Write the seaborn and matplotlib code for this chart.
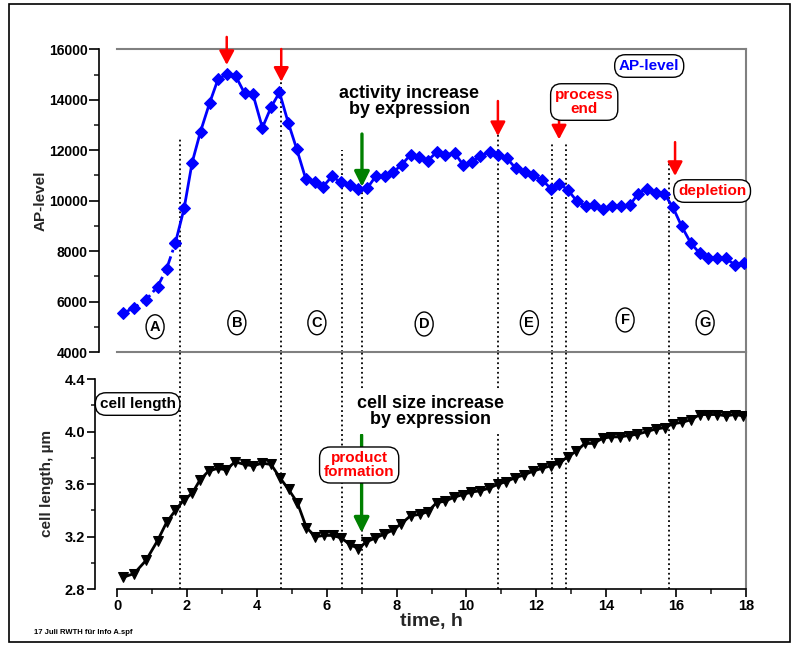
import matplotlib
matplotlib.use('Agg')
import matplotlib.pyplot as plt
import seaborn as sns
from matplotlib.patches import Ellipse, Rectangle
from matplotlib.ticker import FixedLocator

# ---------------- data ----------------
ap_time = [0.16, 0.5, 0.84, 1.16, 1.42, 1.67, 1.92, 2.15, 2.39, 2.65, 2.89, 3.14, 3.4, 3.65, 3.89,
           4.16, 4.41, 4.65, 4.9, 5.14, 5.4, 5.66, 5.9,
           6.15, 6.4, 6.66, 6.9, 7.16, 7.4, 7.66, 7.9, 8.15, 8.4, 8.64, 8.9, 9.15, 9.4, 9.66, 9.9,
           10.15, 10.4, 10.66, 10.91, 11.16, 11.41, 11.67, 11.91,
           12.16, 12.42, 12.66, 12.9, 13.16, 13.41, 13.66, 13.91, 14.16, 14.42, 14.67, 14.91,
           15.16, 15.42, 15.66, 15.91, 16.16, 16.42, 16.67, 16.92, 17.17, 17.42, 17.68, 17.93]
ap_level = [5530, 5760, 6080, 6590, 7300, 8320, 9690, 11510, 12740, 13870, 14810, 15020, 14930, 14260, 14220,
            12890, 13710, 14290, 13090, 12060, 10870, 10730, 10560,
            10960, 10740, 10610, 10470, 10490, 10960, 10960, 11120, 11430, 11820, 11720, 11590, 11930, 11820, 11890, 11430,
            11530, 11780, 11930, 11810, 11680, 11280, 11120, 11000,
            10830, 10470, 10660, 10430, 9980, 9770, 9830, 9650, 9790, 9770, 9810, 10270,
            10480, 10310, 10280, 9730, 8980, 8320, 7920, 7720, 7720, 7710, 7460, 7510]
ap_dashed_count = 6   # first points drawn with dash-dot line

cl_time = [0.16, 0.49, 0.83, 1.16, 1.42, 1.67, 1.91, 2.15, 2.37, 2.62, 2.88, 3.12, 3.38, 3.65, 3.9,
           4.15, 4.41, 4.66, 4.91, 5.16, 5.42, 5.68, 5.92, 6.17, 6.42, 6.67, 6.91, 7.13, 7.39, 7.65,
           7.89, 8.14, 8.4,
           8.66, 8.89, 9.15, 9.38, 9.64, 9.89, 10.14, 10.4, 10.65, 10.91, 11.14, 11.4, 11.65, 11.91,
           12.16, 12.41, 12.66, 12.9, 13.14, 13.39, 13.64, 13.9, 14.15, 14.39, 14.64, 14.89, 15.16,
           15.42, 15.67, 15.91, 16.16, 16.42, 16.68, 16.92, 17.18, 17.43, 17.68, 17.92]
cell_length = [2.89, 2.92, 3.02, 3.17, 3.31, 3.40, 3.48, 3.53, 3.63, 3.70, 3.72, 3.71, 3.77, 3.75, 3.74,
               3.76, 3.75, 3.65, 3.56, 3.46, 3.27, 3.20, 3.21, 3.21, 3.19, 3.14, 3.11, 3.16, 3.19, 3.22,
               3.25, 3.30, 3.36,
               3.37, 3.39, 3.46, 3.47, 3.50, 3.52, 3.54, 3.55, 3.57, 3.60, 3.62, 3.65, 3.67, 3.70,
               3.72, 3.74, 3.76, 3.81, 3.85, 3.91, 3.91, 3.95, 3.96, 3.96, 3.97, 3.98, 4.00,
               4.02, 4.03, 4.06, 4.07, 4.09, 4.13, 4.13, 4.13, 4.12, 4.13, 4.12]

phase_bounds = [1.8, 4.7, 6.45, 7.0, 10.9, 12.45, 12.85, 15.8]
phase_tops = [12500, 14715, 12000, 12600, 13300, 12270, 12280, 11480]
phase_labels = ['A', 'B', 'C', 'D', 'E', 'F', 'G']
phase_label_t = [1.09, 3.43, 5.72, 8.79, 11.8, 14.54, 16.83]
phase_label_v = [5000, 5160, 5160, 5110, 5160, 5270, 5160]

red_arrow_t = [3.14, 4.7, 10.9, 12.65, 15.97]
red_arrow_start = [16490, 16010, 13950, 13160, 12320]
red_arrow_tip = [15380, 14715, 12560, 12430, 10980]

ap_ticks = [4000, 6000, 8000, 10000, 12000, 14000, 16000]
ap_minor = [5000, 7000, 9000, 11000, 13000, 15000]
cl_ticks = [2.8, 3.2, 3.6, 4.0, 4.4]
cl_tick_labels = ['2.8', '3.2', '3.6', '4.0', '4.4']
cl_minor = [3.0, 3.4, 3.8, 4.2]
time_ticks = [0, 2, 4, 6, 8, 10, 12, 14, 16, 18]
time_minor = [1, 3, 5, 7, 9, 11, 13, 15, 17]

# ---------------- style ----------------
sns.set_theme(style='ticks')
plt.rcParams['font.family'] = ['Liberation Sans', 'DejaVu Sans']
plt.rcParams['font.weight'] = 'bold'
plt.rcParams['axes.labelweight'] = 'bold'

BLUE = '#0000ff'
RED = '#ff0000'
GREEN = '#008000'
GRAY = '#808080'

W, H = 801, 646
fig = plt.figure(figsize=(W / 100, H / 100), dpi=100)
fig.patch.set_facecolor('white')


def fx(px):
    return px / W


def fy(py):
    return 1 - py / H


X0, X1 = 117, 746
ax_top = fig.add_axes([fx(X0), fy(352), fx(X1) - fx(X0), fy(49.3) - fy(352)])
ax_bot = fig.add_axes([fx(X0), fy(589.3), fx(X1) - fx(X0), fy(352) - fy(589.3)])

ax_top.set_xlim(0, 18)
ax_top.set_ylim(4000, 16000)
ax_bot.set_xlim(0, 18)
ax_bot.set_ylim(2.8, 2.8 + (589.3 - 352) / 131.4)

for ax in (ax_top, ax_bot):
    ax.set_facecolor('none')
    for s in ax.spines.values():
        s.set_linewidth(1.5)
    ax.spines['right'].set_visible(True)
    ax.spines['right'].set_color(GRAY)
    ax.spines['left'].set_color('black')
    ax.spines['left'].set_linewidth(1.2)

ax_top.spines['top'].set_visible(True)
ax_top.spines['top'].set_color(GRAY)
ax_top.spines['bottom'].set_color(GRAY)
ax_top.spines['left'].set_position(('outward', 18 * 0.72))
ax_top.spines['left'].set_bounds(4000, 16000)
ax_bot.spines['top'].set_visible(False)
ax_bot.spines['bottom'].set_color('black')
ax_bot.spines['bottom'].set_linewidth(1.2)
ax_bot.spines['left'].set_position(('outward', 22 * 0.72))
ax_bot.spines['left'].set_bounds(2.8, 4.4)

# ticks
ax_top.set_yticks(ap_ticks)
ax_top.set_yticklabels([str(t) for t in ap_ticks], fontweight='bold')
ax_top.yaxis.set_minor_locator(FixedLocator(ap_minor))
ax_top.tick_params(axis='x', which='both', bottom=False, top=False, labelbottom=False)
ax_top.tick_params(axis='y', which='major', left=True, direction='out', length=7.2, width=1.2,
                   pad=1, labelsize=10, colors='black')
ax_top.tick_params(axis='y', which='minor', left=True, direction='out', length=3.6, width=1.2)

ax_bot.set_yticks(cl_ticks)
ax_bot.set_yticklabels(cl_tick_labels, fontweight='bold')
ax_bot.yaxis.set_minor_locator(FixedLocator(cl_minor))
ax_bot.set_xticks(time_ticks)
ax_bot.set_xticklabels([str(t) for t in time_ticks], fontweight='bold')
ax_bot.xaxis.set_minor_locator(FixedLocator(time_minor))
ax_bot.tick_params(axis='y', which='major', left=True, direction='out', length=6, width=1.2,
                   pad=1, labelsize=10.5, colors='black')
ax_bot.tick_params(axis='y', which='minor', left=True, direction='out', length=3, width=1.2)
ax_bot.tick_params(axis='x', which='major', bottom=True, direction='out', length=6, width=1.2,
                   pad=1, labelsize=10.5, colors='black')
ax_bot.tick_params(axis='x', which='minor', bottom=True, direction='out', length=3.6, width=1.2)

# axis labels
ax_top.set_ylabel('AP-level', fontsize=11, fontweight='bold')
ax_top.yaxis.set_label_coords((48 - X0) / (X1 - X0), 0.5)
ax_bot.set_ylabel('cell length, µm', fontsize=11, fontweight='bold')
ax_bot.yaxis.set_label_coords((54 - X0) / (X1 - X0), 0.448)
ax_bot.set_xlabel('time, h', fontsize=14, fontweight='bold')
ax_bot.xaxis.set_label_coords(0.5, -(613 - 589.3) / (589.3 - 352))

# phase boundaries
ax_top.vlines(phase_bounds, 4000, phase_tops, colors='black', linestyles=':', lw=1.3, zorder=1)
ax_bot.vlines(phase_bounds, 2.8, ax_bot.get_ylim()[1], colors='black', linestyles=':', lw=1.3, zorder=1)

# data lines
sns.lineplot(x=ap_time[:ap_dashed_count], y=ap_level[:ap_dashed_count], ax=ax_top, color=BLUE,
             linestyle=(0, (4, 1.5, 1, 1.5)), lw=2, marker='D', markersize=6.2, markeredgecolor=BLUE,
             estimator=None, sort=False, zorder=3)
sns.lineplot(x=ap_time[ap_dashed_count - 1:], y=ap_level[ap_dashed_count - 1:], ax=ax_top, color=BLUE,
             lw=2, marker='D', markersize=6.2, markeredgecolor=BLUE, estimator=None, sort=False, zorder=3)
sns.lineplot(x=cl_time, y=cell_length, ax=ax_bot, color='black', lw=2, marker='v', markersize=7,
             markeredgecolor='black', estimator=None, sort=False, zorder=3)
for ax in (ax_top, ax_bot):
    if ax.get_legend() is not None:
        ax.get_legend().remove()
ax_top.set_xlabel('')

# arrows
for t, s, e in zip(red_arrow_t, red_arrow_start, red_arrow_tip):
    ax_top.annotate('', xy=(t, e), xytext=(t, s), annotation_clip=False,
                    arrowprops=dict(arrowstyle='-|>,head_length=0.85,head_width=0.45', mutation_scale=10,
                                    color=RED, lw=1.8, shrinkA=0, shrinkB=0), zorder=4)
ax_top.annotate('', xy=(7.01, 10552), xytext=(7.01, 12642),
                arrowprops=dict(arrowstyle='-|>,head_length=0.9,head_width=0.45', mutation_scale=10,
                                color=GREEN, lw=2.4, shrinkA=0, shrinkB=0), zorder=4)
ax_bot.annotate('', xy=(7.0, 3.231), xytext=(7.0, 3.974),
                arrowprops=dict(arrowstyle='-|>,head_length=0.9,head_width=0.45', mutation_scale=10,
                                color=GREEN, lw=2.4, shrinkA=0, shrinkB=0), zorder=4)

# text annotations
box = dict(boxstyle='round,pad=0.28,rounding_size=0.7', fc='white', ec='black', lw=1)
ax_top.text(8.36, 13930, 'activity increase\nby expression', fontsize=13, fontweight='bold',
            ha='center', va='center', linespacing=0.94, color='black', zorder=5)
ax_top.text(15.23, 15338, 'AP-level', fontsize=11, fontweight='bold', color=BLUE, ha='center',
            va='center', bbox=box, zorder=6)
ax_top.text(13.37, 13910, 'process\nend', fontsize=11, fontweight='bold', color=RED, ha='center',
            va='center', linespacing=1.0, bbox=box, zorder=6)
ax_top.text(17.03, 10381, 'depletion', fontsize=11, fontweight='bold', color=RED, ha='center',
            va='center', bbox=box, zorder=6, clip_on=False)
ax_bot.text(0.59, 4.21, 'cell length', fontsize=11, fontweight='bold', color='black', ha='center',
            va='center', bbox=box, zorder=6, clip_on=False)
ax_bot.text(6.93, 3.746, 'product\nformation', fontsize=11, fontweight='bold', color=RED, ha='center',
            va='center', linespacing=0.95, bbox=box, zorder=6)
ax_bot.text(8.96, 4.152, 'cell size increase\nby expression', fontsize=13, fontweight='bold',
            ha='center', va='center', linespacing=0.94, color='black', zorder=5,
            bbox=dict(boxstyle='square,pad=0.3', fc='white', ec='none'))

for lab, t, v in zip(phase_labels, phase_label_t, phase_label_v):
    ax_top.add_patch(Ellipse((t, v), width=0.515, height=950, fc='white', ec='black', lw=1, zorder=5))
    ax_top.text(t, v, lab, fontsize=10.5, fontweight='bold', ha='center', va='center', color='black',
                zorder=6)

fig.text(fx(34), fy(632), '17 Juli RWTH für Info A.spf', fontsize=5.5, fontweight='bold',
         ha='left', va='center', color='black')

fig.add_artist(Rectangle((fx(9), fy(642)), fx(790) - fx(9), fy(4) - fy(642), transform=fig.transFigure,
                         fill=False, ec='black', lw=1.2))

fig.savefig('out.png', dpi=100)
